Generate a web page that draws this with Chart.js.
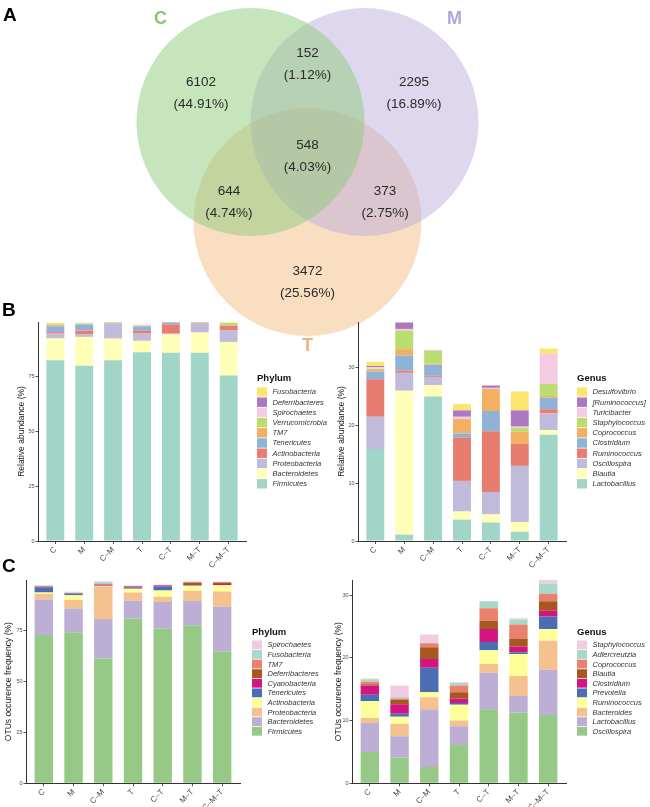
<!DOCTYPE html>
<html>
<head>
<meta charset="utf-8">
<script src="https://cdn.jsdelivr.net/npm/chart.js@4.4.1/dist/chart.umd.min.js"></script>
<style>
  html, body { margin: 0; padding: 0; background: #fff; }
  #page { position: relative; width: 650px; height: 807px; overflow: hidden; font-family: "Liberation Sans", Arial, sans-serif; }
  #page canvas { position: absolute; }
  .tag { position: absolute; font-weight: bold; font-size: 19px; line-height: 19px; color: #000; }
</style>
</head>
<body>
<div id="page">
  <canvas id="venn" width="650" height="355" style="left:0;top:0;width:650px;height:355px"></canvas>
  <canvas id="bPhylum" width="330" height="280" style="left:0;top:290px;width:330px;height:280px"></canvas>
  <canvas id="bGenus" width="320" height="280" style="left:330px;top:290px;width:320px;height:280px"></canvas>
  <canvas id="cPhylum" width="330" height="262" style="left:0;top:545px;width:330px;height:262px"></canvas>
  <canvas id="cGenus" width="320" height="262" style="left:330px;top:545px;width:320px;height:262px"></canvas>
  <div class="tag" style="left:3px;top:5px">A</div>
  <div class="tag" style="left:2px;top:300px">B</div>
  <div class="tag" style="left:2px;top:556px">C</div>
</div>
<script>
// ---- data ----
var groups = ["C", "M", "C\u2013M", "T", "C\u2013T", "M\u2013T", "C\u2013M\u2013T"];

// Venn: C only, C&M, M only, C&M&T, C&T, M&T, T only
var vennSets = ["C", "M", "T"];
var vennCounts = [6102, 152, 2295, 548, 644, 373, 3472];

// B: relative abundance (%), stacked bottom -> top
var abundPhyla = ["Firmicutes", "Bacteroidetes", "Proteobacteria", "Actinobacteria", "Tenericutes",
  "TM7", "Verrucomicrobia", "Spirochaetes", "Deferribacteres", "Fusobacteria"];
var abundPhylumValues = [
  [82.5, 80.0, 82.5, 86.2, 86.0, 86.0, 75.6],
  [10.0, 13.2, 9.9, 5.2, 8.3, 9.2, 15.3],
  [2.2, 1.2, 7.0, 3.3, 0.4, 4.0, 5.4],
  [0.7, 1.7, 0.1, 1.3, 4.2, 0.2, 2.0],
  [2.6, 2.8, 0.1, 2.0, 0.9, 0.2, 0.1],
  [0.6, 0.2, 0.2, 0.3, 0.1, 0.3, 0.2],
  [0.2, 0.1, 0.0, 0.1, 0.0, 0.0, 1.0],
  [0.2, 0.1, 0.0, 0.1, 0.0, 0.0, 0.0],
  [0.1, 0.1, 0.0, 0.1, 0.0, 0.0, 0.0],
  [0.5, 0.3, 0.2, 0.1, 0.1, 0.1, 0.2]
];
var abundGenera = ["Lactobacillus", "Blautia", "Oscillospira", "Ruminococcus", "Clostridium",
  "Coprococcus", "Staphylococcus", "Turicibacter", "[Ruminococcus]", "Desulfovibrio"];
var abundGenusValues = [
  [15.9, 1.1, 25.0, 3.7, 3.2, 1.6, 18.4],
  [0.0, 24.9, 2.0, 1.4, 1.4, 1.7, 0.8],
  [5.6, 3.1, 1.4, 5.3, 3.9, 9.7, 2.9],
  [6.5, 0.4, 0.2, 7.5, 10.5, 3.8, 0.7],
  [1.3, 2.6, 1.9, 0.7, 3.5, 0.0, 2.0],
  [0.3, 1.1, 0.2, 2.5, 3.8, 2.1, 0.3],
  [0.2, 3.2, 2.2, 0.0, 0.0, 0.7, 2.1],
  [0.3, 0.3, 0.2, 0.4, 0.2, 0.2, 5.2],
  [0.2, 1.1, 0.0, 1.1, 0.4, 2.8, 0.0],
  [0.7, 0.1, 0.0, 1.1, 0.1, 3.3, 0.9]
];

// C: OTUs occurence frequency (%), stacked bottom -> top
var otuPhyla = ["Firmicutes", "Bacteroidetes", "Proteobacteria", "Actinobacteria", "Tenericutes",
  "Cyanobacteria", "Deferribacteres", "TM7", "Fusobacteria", "Spirochaetes"];
var otuPhylumValues = [
  [72.6, 73.9, 61.1, 80.7, 75.8, 77.4, 64.4],
  [17.4, 11.7, 19.3, 8.7, 12.9, 11.8, 22.0],
  [2.6, 4.1, 15.8, 4.0, 2.6, 5.0, 7.5],
  [0.8, 2.3, 0.3, 1.8, 3.1, 2.5, 3.1],
  [2.6, 0.9, 0.1, 0.8, 2.1, 0.3, 0.1],
  [0.2, 0.1, 0.2, 0.3, 0.3, 0.1, 0.4],
  [0.1, 0.0, 0.0, 0.1, 0.1, 1.0, 0.6],
  [0.3, 0.1, 0.7, 0.2, 0.2, 0.4, 0.4],
  [0.1, 0.1, 1.0, 0.0, 0.0, 0.0, 0.0],
  [0.2, 0.6, 0.3, 0.2, 0.2, 0.3, 0.1]
];
var otuGenera = ["Oscillospira", "Lactobacillus", "Bacteroides", "Ruminococcus", "Prevotella",
  "Clostridium", "Blautia", "Coprococcus", "Adlercreutzia", "Staphylococcus"];
var otuGenusValues = [
  [5.0, 4.1, 2.6, 6.1, 11.8, 11.3, 10.9],
  [4.6, 3.4, 9.2, 3.0, 5.8, 2.6, 7.2],
  [0.8, 2.0, 1.9, 0.9, 1.4, 3.2, 4.6],
  [2.7, 1.1, 0.8, 2.5, 2.2, 3.5, 1.9],
  [1.0, 0.5, 3.9, 0.3, 1.3, 0.3, 2.0],
  [1.5, 1.5, 1.4, 0.7, 2.1, 0.9, 0.9],
  [0.2, 0.7, 1.9, 1.0, 1.3, 1.2, 1.5],
  [0.4, 0.2, 0.6, 1.1, 2.0, 2.3, 1.2],
  [0.4, 0.3, 0.1, 0.4, 1.1, 0.8, 1.6],
  [0.1, 1.8, 1.3, 0.1, 0.0, 0.2, 0.6]
];

var abundTicks = [0, 25, 50, 75];
var abundGenusTicks = [0, 10, 20, 30];
var otuTicks = [0, 25, 50, 75];
var otuGenusTicks = [0, 10, 20, 30];

// ---- styles ----
var family = '"Liberation Sans", Arial, Helvetica, sans-serif';
Chart.defaults.font.family = family;

var set3 = ["#a0d5c8", "#ffffb8", "#c0badb", "#e87c6e", "#8fb3d7",
  "#f3b062", "#bbdc6e", "#f4cbe2", "#ab78c1", "#fbe56c"];
var accent = ["#97c986", "#bdaed6", "#f5c18f", "#ffff9a", "#4a6db3",
  "#d41480", "#a8581f", "#e8826f", "#a7d9c9", "#f3cae3"];

// Venn layout, in units of one circle radius
var vennXMin = -2.697, vennXMax = 3.004, vennYMin = -2.044, vennYMax = 1.070;
var vennCx = [-0.5, 0.5, 0];
var vennCy = [0, 0, -0.877];
var vennFill = ["rgba(144,204,124,0.5)", "rgba(190,176,222,0.5)", "rgba(246,190,132,0.5)"];
var vennInk = ["#86c76c", "#b3a5d6", "#f2b27a"];
var vennSetX = [-1.29, 1.29, 0];
var vennSetY = [0.904, 0.904, -1.965];
var vennLabX = [-0.934, 0, 0.934, 0, -0.689, 0.68, 0];
var vennLabY = [0.254, 0.509, 0.254, -0.298, -0.702, -0.702, -1.404];

var vennText = {
  id: "vennText",
  afterDatasetsDraw: function (chart) {
    var ctx = chart.ctx;
    var sx = chart.scales.x, sy = chart.scales.y;
    var total = vennCounts.reduce(function (a, b) { return a + b; }, 0);
    ctx.save();
    ctx.textAlign = "center";
    ctx.textBaseline = "middle";
    ctx.fillStyle = "#2b2b2b";
    ctx.font = "13.5px " + family;
    vennCounts.forEach(function (c, i) {
      var px = sx.getPixelForValue(vennLabX[i]);
      var py = sy.getPixelForValue(vennLabY[i]);
      ctx.fillText(String(c), px, py - 11);
      ctx.fillText("(" + (c / total * 100).toFixed(2) + "%)", px, py + 11);
    });
    ctx.font = "bold 18px " + family;
    vennSets.forEach(function (s, i) {
      ctx.fillStyle = vennInk[i];
      ctx.fillText(s, sx.getPixelForValue(vennSetX[i]), sy.getPixelForValue(vennSetY[i]));
    });
    ctx.restore();
  }
};

var vennCanvas = document.getElementById("venn");
// one radius unit in pixels, from the x scale range
var vennRadius = vennCanvas.width / (vennXMax - vennXMin);

new Chart(vennCanvas, {
  type: "bubble",
  data: {
    datasets: vennSets.map(function (s, i) {
      return {
        label: s,
        data: [{ x: vennCx[i], y: vennCy[i] }],
        backgroundColor: vennFill[i],
        borderWidth: 0,
        clip: false,
        radius: vennRadius
      };
    })
  },
  plugins: [vennText],
  options: {
    responsive: false,
    animation: false,
    events: [],
    layout: { autoPadding: false, padding: 0 },
    plugins: { legend: { display: false }, tooltip: { enabled: false } },
    scales: {
      x: { type: "linear", display: false, min: vennXMin, max: vennXMax },
      y: { type: "linear", display: false, min: vennYMin, max: vennYMax }
    }
  }
});

// ggplot-like legend to the right of the plot
var ggLegend = {
  id: "ggLegend",
  afterDraw: function (chart, args, o) {
    var ctx = chart.ctx, area = chart.chartArea;
    var sets = chart.data.datasets.slice().reverse();
    var mid = (area.top + area.bottom) / 2;
    var x = area.right + o.gap;
    var top0 = mid - sets.length * o.itemH / 2 + 6.8;
    ctx.save();
    ctx.textBaseline = "middle";
    ctx.textAlign = "left";
    ctx.fillStyle = "#111";
    ctx.font = "bold 9.5px " + family;
    ctx.fillText(o.title, x, top0 - 8.5);
    ctx.font = "italic 7.5px " + family;
    sets.forEach(function (ds, i) {
      var y = top0 + i * o.itemH;
      ctx.fillStyle = ds.backgroundColor;
      ctx.fillRect(x, y, 10, o.itemH - 0.8);
      ctx.fillStyle = "#333";
      ctx.fillText(ds.label, x + 15.5, y + o.itemH / 2);
    });
    ctx.restore();
  }
};

function stackedChart(id, names, values, colors, o) {
  var datasets = names.map(function (name, i) {
    return {
      label: name,
      data: values[i].map(function (v, j) { return { x: j, y: v }; }),
      backgroundColor: colors[i],
      borderWidth: 0,
      barPercentage: 0.62,
      categoryPercentage: 1
    };
  });
  return new Chart(document.getElementById(id), {
    type: "bar",
    data: { datasets: datasets },
    plugins: [ggLegend],
    options: {
      responsive: false,
      animation: false,
      events: [],
      layout: { padding: { left: 0, top: o.top, right: o.right, bottom: 0 } },
      plugins: {
        legend: { display: false },
        tooltip: { enabled: false },
        ggLegend: { title: o.legendTitle, gap: o.gap, itemH: o.itemH }
      },
      scales: {
        x: {
          type: "linear",
          stacked: true,
          offset: false,
          min: -0.6,
          max: groups.length - 0.4,
          afterBuildTicks: function (s) {
            s.ticks = groups.map(function (g, j) { return { value: j }; });
          },
          afterFit: function (s) { s.height = o.xHeight; },
          grid: { offset: false, drawOnChartArea: false, tickLength: 3, color: "#555" },
          border: { display: true, color: "#333", width: 1 },
          ticks: {
            minRotation: 45,
            maxRotation: 45,
            padding: 1,
            color: "#4d4d4d",
            font: { size: 8 },
            callback: function (v) { return groups[v]; }
          }
        },
        y: {
          stacked: true,
          min: 0,
          max: o.yMax,
          afterBuildTicks: function (s) {
            s.ticks = o.yTicks.map(function (v) { return { value: v }; });
          },
          afterFit: function (s) { s.width = o.yWidth; },
          grid: { drawOnChartArea: false, tickLength: 2.5, color: "#555" },
          border: { display: true, color: "#333", width: 1 },
          ticks: { padding: 1, color: "#4d4d4d", font: { size: 5.5 } },
          title: {
            display: true,
            text: o.yTitle,
            color: "#1a1a1a",
            font: { size: 8.5 },
            padding: { top: o.titlePad, bottom: 0 }
          }
        }
      }
    }
  });
}

stackedChart("bPhylum", abundPhyla, abundPhylumValues, set3, {
  top: 32, right: 84, xHeight: 29, yWidth: 38, yMax: 100, yTicks: abundTicks,
  yTitle: "Relative abundance (%)", titlePad: 16.6, legendTitle: "Phylum", gap: 11, itemH: 10.2
});
stackedChart("bGenus", abundGenera, abundGenusValues, set3, {
  top: 32, right: 84, xHeight: 29, yWidth: 28, yMax: 37.9, yTicks: abundGenusTicks,
  yTitle: "Relative abundance (%)", titlePad: 6.6, legendTitle: "Genus", gap: 11, itemH: 10.2
});
stackedChart("cPhylum", otuPhyla, otuPhylumValues, accent, {
  top: 35, right: 90, xHeight: 23.7, yWidth: 26, yMax: 99.5, yTicks: otuTicks,
  yTitle: "OTUs occurence frequency (%)", titlePad: 3.9, legendTitle: "Phylum", gap: 12, itemH: 9.6
});
stackedChart("cGenus", otuGenera, otuGenusValues, accent, {
  top: 35, right: 84, xHeight: 23.7, yWidth: 22, yMax: 32.4, yTicks: otuGenusTicks,
  yTitle: "OTUs occurence frequency (%)", titlePad: 3.2, legendTitle: "Genus", gap: 11, itemH: 9.6
});
</script>
</body>
</html>
